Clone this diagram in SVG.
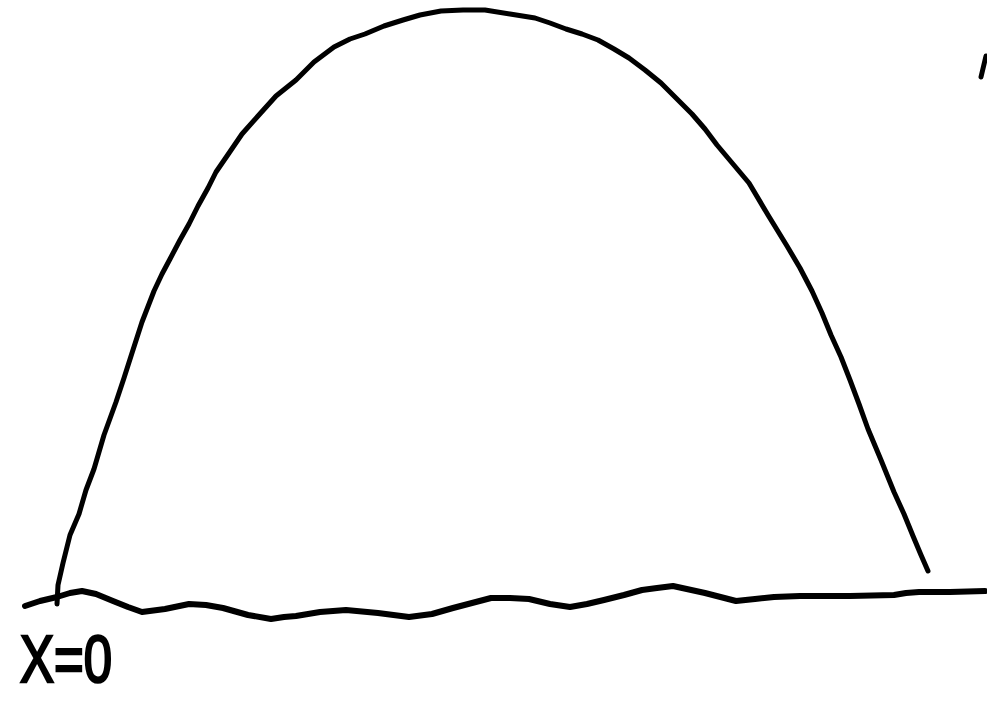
<svg xmlns="http://www.w3.org/2000/svg" width="987" height="701" viewBox="0 0 987 701">
<style>
.ink{fill:none;stroke:#000;stroke-linecap:round;stroke-linejoin:round}
.lbl{font-family:"Liberation Sans","DejaVu Sans",sans-serif;fill:#000;stroke:#000;stroke-width:2.5}
</style>
<rect width="987" height="701" fill="#fff"/>
<g id="arch">
<path class="ink" stroke-width="5" d="M57,604 L58,585 L63,563 L70,535 L79,514 L86,490 L94,469 L104,435 L116,402 L124,378 L132,353 L142,322 L154,291 L162,274 L170,259 L180,240 L189,224 L198,206 L208,188 L216,172 L227,156 L242,134 L258,116 L276,96 L296,80 L314,62 L334,47 L350,39 L365,34 L384,26 L403,20 L420,15 L441,11 L463,10 L485,10 L510,14 L535,18 L550,23 L566,29 L582,34 L598,40 L614,49 L629,58 L645,70 L661,83 L676,98 L692,114 L705,129 L717,145 L733,164 L749,183 L768,215 L787,246 L800,268 L812,291 L822,313 L831,335 L841,357 L850,380 L859,404 L868,429 L881,460 L894,492 L904,514 L913,536 L921,555 L928,571"/>
</g>
<g id="ground">
<path class="ink" stroke-width="6" d="M25,606 L40,601 L57,597 L70,593 L82,591 L96,594 L113,601 L128,607 L142,612 L165,609 L189,604 L206,605 L223,608 L248,615 L271,619 L284,617 L296,616 L320,612 L346,610 L378,613 L409,617 L432,614 L453,608 L472,603 L491,598 L510,598 L529,599 L550,604 L570,607 L587,604 L604,600 L624,595 L642,590 L657,588 L673,586 L705,593 L736,601 L755,599 L774,597 L800,596 L850,596 L894,595 L906,593 L919,592 L950,592 L985,591"/>
</g>
<g id="edge-mark">
<path class="ink" stroke-width="5" d="M986,56 L981,77"/>
</g>
<g id="label">
<text class="lbl" x="20" y="682" font-size="66" textLength="92" lengthAdjust="spacingAndGlyphs">X=0</text>
</g>
</svg>
